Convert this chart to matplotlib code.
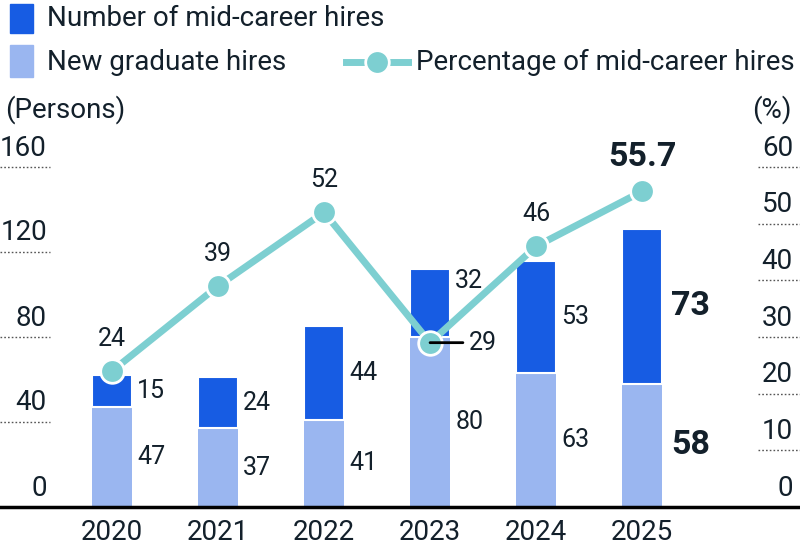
import matplotlib
matplotlib.use("Agg")
import matplotlib.pyplot as plt
from matplotlib.patches import Rectangle
from matplotlib.lines import Line2D
import matplotlib.transforms as mtransforms

plt.rcParams['font.family'] = ['Roboto', 'DejaVu Sans']

years = ["2020", "2021", "2022", "2023", "2024", "2025"]
new_grad = [47, 37, 41, 80, 63, 58]
mid_career = [15, 24, 44, 32, 53, 73]
pct_mid = [24, 39, 52, 29, 46, 55.7]
pct_labels = ["24", "39", "52", "29", "46", "55.7"]
left_ticks = [0, 40, 80, 120, 160]
right_ticks = [0, 10, 20, 30, 40, 50, 60]

C_MID = "#175CE3"
C_NEW = "#9AB6F0"
C_LINE = "#7DCFD1"
C_TEXT = "#13202B"

FS_MAIN = 20
FS_VAL = 18
FS_BIG = 24.5

W, H = 800, 558
fig = plt.figure(figsize=(W / 100, H / 100), dpi=100)

def fx(x):
    return x / W

def fy(y):
    return 1 - y / H

ax_bottom = fy(507)
ax_top = fy(167)
ax = fig.add_axes([0, ax_bottom, 1, ax_top - ax_bottom])
ax.set_ylim(0, 160)
ax.set_xlim(-1.057, 6.49)
for s in ["left", "right", "top"]:
    ax.spines[s].set_visible(False)
ax.spines["bottom"].set_linewidth(2.5)
ax.spines["bottom"].set_color("#000000")
ax.set_yticks([])

xs = list(range(len(years)))
bw = 0.38
ax.bar(xs, new_grad, width=bw, color=C_NEW, edgecolor="none", zorder=2)
ax.bar(xs, mid_career, width=bw, bottom=new_grad, color=C_MID, edgecolor="white", linewidth=1.5, zorder=2)

ax.set_xticks(xs)
ax.set_xticklabels(years, fontsize=FS_MAIN, color=C_TEXT)
ax.tick_params(axis="x", length=0, pad=9)

# left tick labels with dotted lines
ltrans = mtransforms.blended_transform_factory(ax.transAxes, ax.transData)
for t in left_ticks:
    ax.text(47 / W, t, str(t), transform=ltrans + mtransforms.ScaledTranslation(0, 19 / 100, fig.dpi_scale_trans),
            ha="right", va="center", fontsize=FS_MAIN, color=C_TEXT)
    if t > 0:
        ax.plot([0, 50 / W], [t, t], transform=ltrans, ls=(0, (1.2, 1.5)), color="#555555", lw=1, clip_on=False)

ax2 = ax.twinx()
ax2.set_ylim(0, 60)
ax2.set_yticks([])
for s in ["left", "right", "top", "bottom"]:
    ax2.spines[s].set_visible(False)
rtrans = mtransforms.blended_transform_factory(ax2.transAxes, ax2.transData)
for t in right_ticks:
    ax2.text(793 / W, t, str(t), transform=rtrans + mtransforms.ScaledTranslation(0, 19 / 100, fig.dpi_scale_trans),
             ha="right", va="center", fontsize=FS_MAIN, color=C_TEXT)
    if t > 0:
        ax2.plot([758 / W, 1], [t, t], transform=rtrans, ls=(0, (1.2, 1.5)), color="#555555", lw=1, clip_on=False)

# line
ax2.plot(xs, pct_mid, color=C_LINE, lw=5, marker="o", ms=17, mfc=C_LINE, mec="white", mew=2, zorder=5)

# percentage labels
for i, (v, lab) in enumerate(zip(pct_mid, pct_labels)):
    if i == 3:
        ax2.annotate("", xy=(i, v), xytext=(i + 0.31, v),
                     arrowprops=dict(arrowstyle="-", color="black", lw=2, shrinkA=0, shrinkB=0), zorder=6)
        ax2.annotate(lab, xy=(i + 0.37, v), ha="left", va="center", fontsize=FS_VAL, color=C_TEXT, zorder=7)
    elif i == len(pct_mid) - 1:
        ax2.annotate(lab, xy=(i, v), xytext=(0, 25), textcoords="offset points",
                     ha="center", va="center", fontsize=FS_BIG, fontweight="bold", color=C_TEXT)
    else:
        ax2.annotate(lab, xy=(i, v), xytext=(0, 23), textcoords="offset points",
                     ha="center", va="center", fontsize=FS_VAL, color=C_TEXT)

# bar value labels
for i in xs:
    last = i == len(xs) - 1
    fs = FS_BIG if last else FS_VAL
    fw = "bold" if last else "normal"
    dx = 9 if last else 5
    ax.annotate(str(new_grad[i]), xy=(i + bw / 2, new_grad[i] / 2), xytext=(dx * 0.72, 0),
                textcoords="offset points", ha="left", va="center", fontsize=fs, fontweight=fw, color=C_TEXT)
    ymid = new_grad[i] + mid_career[i] / 2
    if i == 3:
        ymid = new_grad[i] + mid_career[i] * 0.82
    ax.annotate(str(mid_career[i]), xy=(i + bw / 2, ymid), xytext=(dx * 0.72, 0),
                textcoords="offset points", ha="left", va="center", fontsize=fs, fontweight=fw, color=C_TEXT)

# axis unit labels
fig.text(fx(5), fy(110), "(Persons)", ha="left", va="center", fontsize=FS_MAIN, color=C_TEXT)
fig.text(fx(792), fy(110), "(%)", ha="right", va="center", fontsize=FS_MAIN, color=C_TEXT)

# legend
fig.add_artist(Rectangle((fx(10), fy(33)), 23 / W, 29 / H, transform=fig.transFigure, color=C_MID))
fig.add_artist(Rectangle((fx(10), fy(77)), 23 / W, 32 / H, transform=fig.transFigure, color=C_NEW))
fig.text(fx(47), fy(18), "Number of mid-career hires", ha="left", va="center", fontsize=FS_MAIN, color=C_TEXT)
fig.text(fx(47), fy(62), "New graduate hires", ha="left", va="center", fontsize=FS_MAIN, color=C_TEXT)
fig.add_artist(Line2D([fx(346), fx(408)], [fy(62), fy(62)], transform=fig.transFigure, color=C_LINE, lw=5))
fig.add_artist(Line2D([fx(377)], [fy(62)], transform=fig.transFigure, color=C_LINE, marker="o", ms=17,
                      mec="white", mew=2))
fig.text(fx(416), fy(62), "Percentage of mid-career hires", ha="left", va="center", fontsize=FS_MAIN, color=C_TEXT)

fig.savefig("out.png", dpi=100)
